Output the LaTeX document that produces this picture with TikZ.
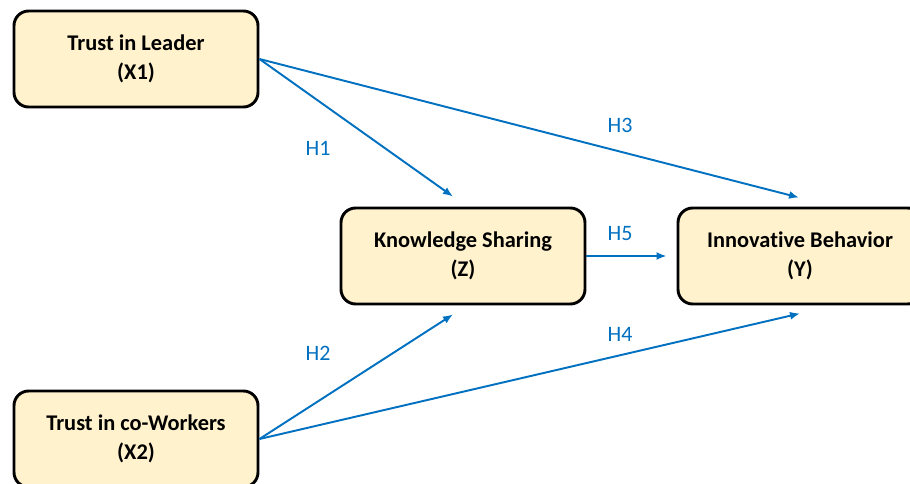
\documentclass[tikz,border=0pt]{standalone}
\usepackage{fontspec}
\setmainfont[Ligatures={NoCommon}]{Carlito}
\usetikzlibrary{arrows.meta,calc}

\definecolor{boxfill}{RGB}{255,242,204}
\definecolor{linkblue}{RGB}{0,112,192}

\tikzset{
  construct/.style={draw=black, line width=2.2pt, fill=boxfill, rounded corners=11pt,
    minimum width=183pt, minimum height=72pt, inner sep=0pt, align=center,
    font=\fontsize{16.8}{21.8}\selectfont\bfseries},
  link/.style={draw=linkblue, line width=1.45pt, -{Latex[length=7.5pt,width=6pt]}},
  hyp/.style={text=linkblue, font=\fontsize{16.5}{19}\selectfont, inner sep=0pt}
}

\begin{document}
\begin{tikzpicture}[x=0.75pt, y=-0.75pt]
  \useasboundingbox (0,0) rectangle (910,484);
  \clip (0,0) rectangle (910,484);

  % constructs of the model
  \node[construct] (X1) at (136,59)  {Trust in Leader\\(X1)};
  \node[construct] (X2) at (136,439) {Trust in co-Workers\\(X2)};
  \node[construct] (Z)  at (463,256) {Knowledge Sharing\\(Z)};
  \node[construct] (Y)  at (800,256) {Innovative Behavior\\(Y)};

  % arrow end points just off the target boxes
  \coordinate (zn) at ($(Z.north)+(-10,-10)$);
  \coordinate (zs) at ($(Z.south)+(-10,9)$);
  \coordinate (yn) at ($(Y.north)+(-1,-9)$);
  \coordinate (ys) at ($(Y.south)+(0,8)$);
  \coordinate (yw) at ($(Y.west)+(-10,0)$);

  % hypothesised paths
  \draw[link] (X1.east) -- (zn);
  \draw[link] (X1.east) -- (yn);
  \draw[link] (X2.east) -- (zs);
  \draw[link] (X2.east) -- (ys);
  \draw[link] (Z.east) -- (yw);

  % path labels
  \node[hyp] (h1) at (318,148) {H1};
  \node[hyp] (h2) at (318,353) {H2};
  \node[hyp] (h3) at (620,125) {H3};
  \node[hyp] (h4) at (620,334) {H4};
  \node[hyp] (h5) at (620,234) {H5};
\end{tikzpicture}
\end{document}
